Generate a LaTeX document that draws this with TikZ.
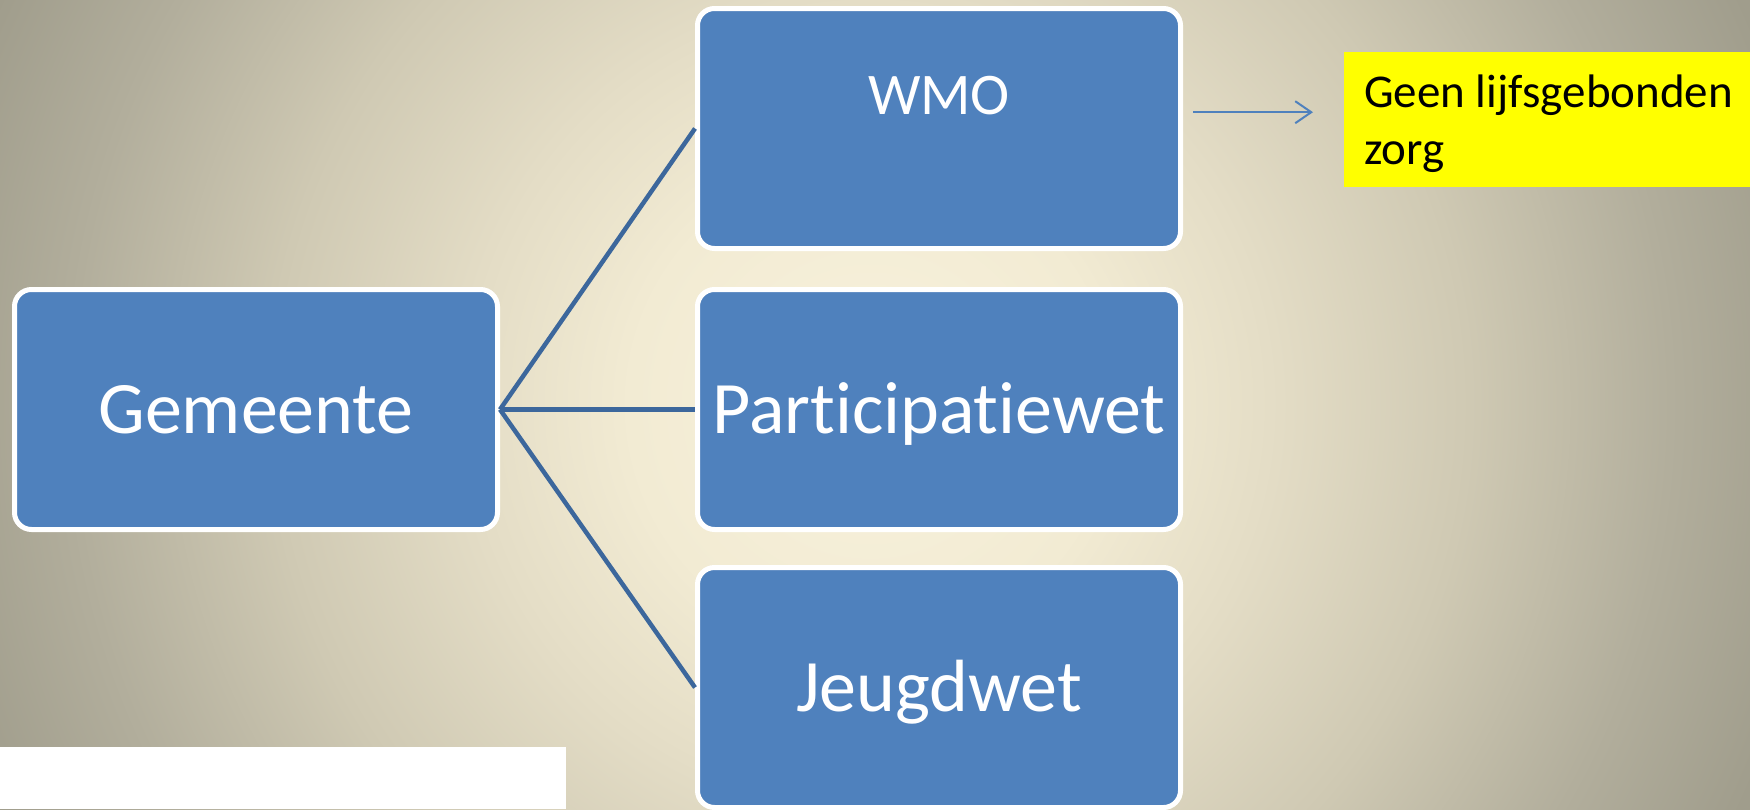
\documentclass[tikz,border=0pt]{standalone}
\usepackage[dvipsnames]{xcolor}
\usepackage{fontspec}
\setmainfont{Carlito}[Ligatures=NoCommon]
\usetikzlibrary{arrows.meta}

\definecolor{boxblue}{HTML}{4F81BD}
\definecolor{linkblue}{HTML}{3C679C}
\definecolor{notearrowblue}{HTML}{4F81BD}
\definecolor{noteyellow}{HTML}{FFFF00}
\definecolor{bgcream}{HTML}{F8F2DD}
\definecolor{bgwarm}{HTML}{F2EBD3}
\definecolor{bgmid}{HTML}{E4DDC6}
\definecolor{bgdim}{HTML}{CFC9B3}
\definecolor{bgedge}{HTML}{B2AE9C}
\definecolor{bgcorner}{HTML}{A09D8C}

\pgfdeclareradialshading{bgglow}{\pgfpoint{0bp}{0bp}}{color(0bp)=(bgcream); color(6bp)=(bgwarm); color(10bp)=(bgmid); color(15bp)=(bgdim); color(20bp)=(bgedge); color(24bp)=(bgcorner); color(50bp)=(bgcorner)}

\begin{document}
\begin{tikzpicture}[x=1pt, y=-1pt,
  wetbox/.style={rectangle, rounded corners=17pt, fill=boxblue, draw=white, line width=5pt,
                 minimum width=483pt, minimum height=240pt, inner sep=0pt, text=white,
                 font=\fontsize{74}{89}\selectfont, text height=48pt, text depth=0pt},
  link/.style={color=linkblue, line width=4.5pt},
  notearrow/.style={color=notearrowblue, line width=2pt, -{Straight Barb[length=16pt, width=22pt]}}]

\useasboundingbox (0, 0) rectangle (1750, 809);

% draw background glow
\begin{scope}
\clip (0, 0) rectangle (1750, 809);
\shade[shading=bgglow] (-130, -596) rectangle (1870, 1404);
\end{scope}

% draw white strip bottom left
\fill[color=white] (0, 747) rectangle (566, 809);

% draw boxes
\node[wetbox] (gemeente) at (256, 409.5) {Gemeente};
\node[wetbox, font=\fontsize{59}{71}\selectfont, text height=38pt, text depth=67pt] (wmo) at (939, 128.5) {WMO};
\node[wetbox] (participatie) at (939, 409.5) {Participatiewet};
\node[wetbox] (jeugd) at (939, 687.5) {Jeugdwet};

% draw links
\draw[link] (gemeente.east) -- (wmo.west);
\draw[link] (gemeente.east) -- (participatie.west);
\draw[link] (gemeente.east) -- (jeugd.west);

% draw note
\node[rectangle, fill=noteyellow, anchor=north west, minimum width=406pt, minimum height=135pt,
      inner xsep=20pt, inner ysep=0pt, text height=40pt, text depth=65pt,
      font=\fontsize{47}{57}\selectfont] (note) at (1344, 52)
      {\parbox[t]{386pt}{\raggedright Geen lijfsgebonden\\zorg}};
\coordinate (arrowtip) at ([xshift=-31pt, yshift=7.5pt]note.west);
\draw[notearrow, shorten <=10pt] (wmo.east |- arrowtip) -- (arrowtip);

\end{tikzpicture}
\end{document}
